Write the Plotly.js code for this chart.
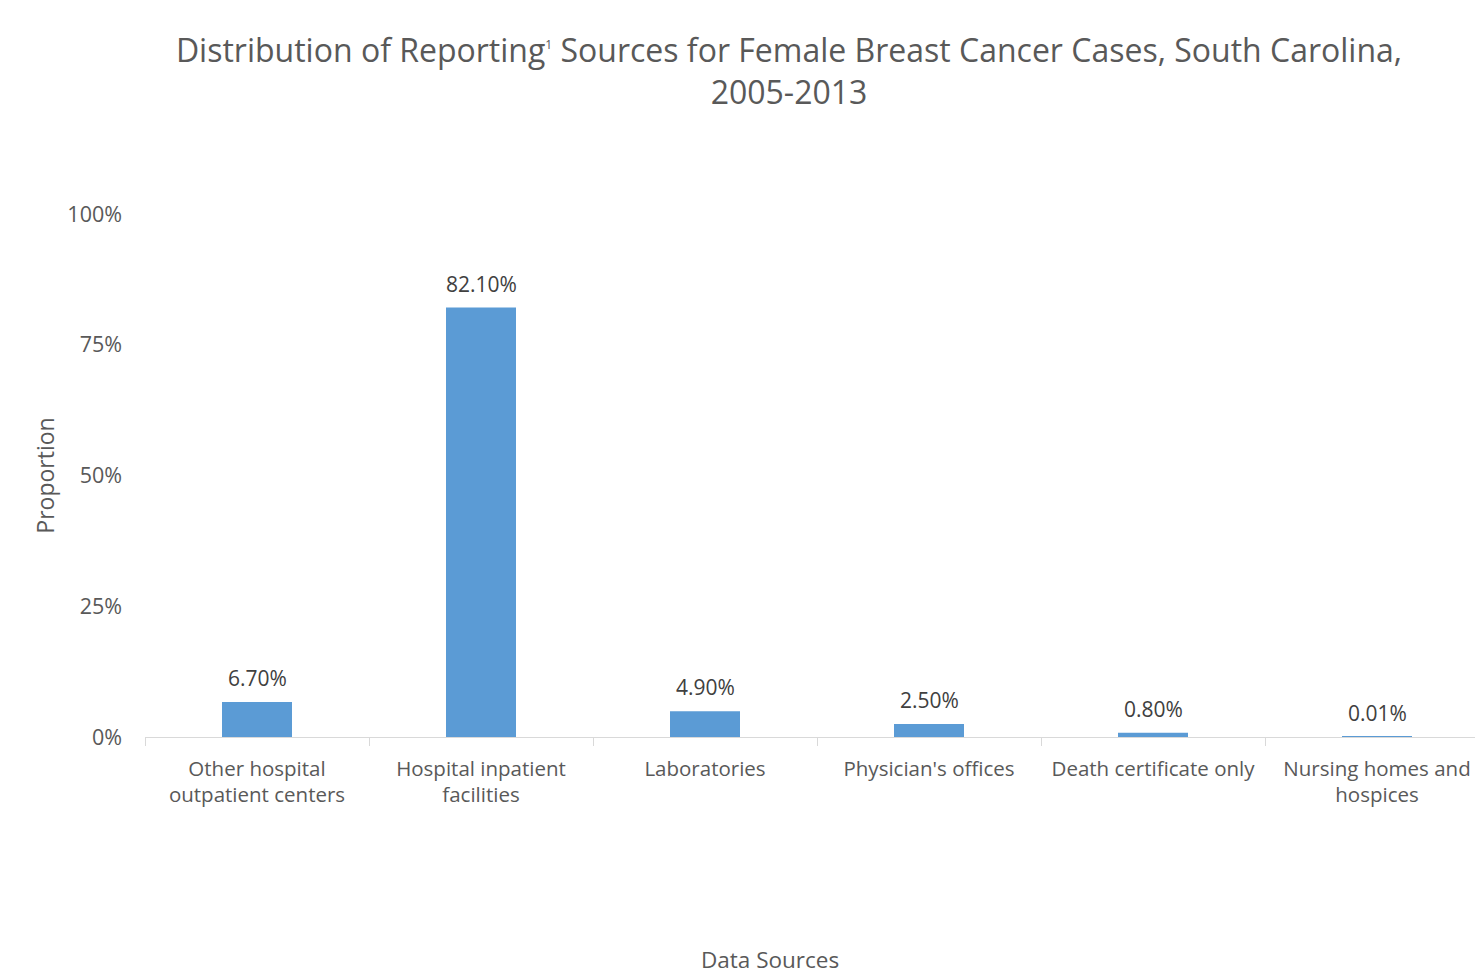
<!DOCTYPE html>
<html>
<head>
<meta charset="utf-8">
<script src="https://cdn.plot.ly/plotly-3.0.1.min.js"></script>
<style>
html, body { margin: 0; padding: 0; overflow: hidden; background: #fff; }
#chart { width: 1500px; height: 973px; }
</style>
</head>
<body>
<div id="chart"></div>
<script>
const categories = [
  "Other hospital<br>outpatient centers",
  "Hospital inpatient<br>facilities",
  "Laboratories",
  "Physician's offices",
  "Death certificate only",
  "Nursing homes and<br>hospices"
];
const values = [6.7, 82.1, 4.9, 2.5, 0.8, 0.01];
const yTickVals = [0, 25, 50, 75, 100];
const yTickText = ["0%", "25%", "50%", "75%", "100%"];

const FONT = "Open Sans, DejaVu Sans, sans-serif";

const annotations = categories.map((c, i) => ({
  x: c, y: values[i], xref: "x", yref: "y",
  text: values[i].toFixed(2) + "%",
  showarrow: false, yanchor: "bottom", yshift: 8,
  font: { family: FONT, size: 21, color: "#404040" }
}));
annotations.push({
  x: (770 - 145) / 1344, y: 0, xref: "paper", yref: "paper",
  xanchor: "center", yanchor: "middle",
  yshift: -(959 - 737),
  text: "Data Sources", showarrow: false,
  font: { family: FONT, size: 22.5, color: "#595959" }
});

const trace = {
  type: "bar",
  x: categories,
  y: values,
  marker: { color: "#5B9BD5" },
  hoverinfo: "x+y"
};

const layout = {
  width: 1500, height: 973,
  margin: { l: 145, r: 11, t: 214, b: 236 },
  paper_bgcolor: "#ffffff", plot_bgcolor: "#ffffff",
  showlegend: false,
  bargap: 0.6875,
  title: {
    text: "Distribution of Reporting<sup><span style=\"font-size:12px\">1</span></sup> Sources for Female Breast Cancer Cases, South Carolina,<br>2005-2013",
    x: 789 / 1500, xanchor: "center", xref: "container",
    y: 1 - 62 / 973, yanchor: "middle", yref: "container",
    font: { family: FONT, size: 32, color: "#595959" }
  },
  xaxis: {
    type: "category",
    tickson: "boundaries",
    ticks: "outside", ticklen: 8, tickcolor: "#d9d9d9", tickwidth: 1,
    ticklabelstandoff: 13,
    showline: true, linecolor: "#d9d9d9", linewidth: 1,
    showgrid: false,
    tickfont: { family: FONT, size: 20.5, color: "#595959" },
    automargin: false
  },
  yaxis: {
    range: [0, 100],
    tickvals: yTickVals, ticktext: yTickText,
    showgrid: false, zeroline: false, showline: false,
    ticks: "", ticklabelstandoff: 22,
    tickfont: { family: FONT, size: 21.5, color: "#595959" },
    title: { text: "Proportion", standoff: 6, font: { family: FONT, size: 23, color: "#595959" } },
    automargin: false
  },
  annotations: annotations
};

Plotly.newPlot("chart", [trace], layout, { displayModeBar: false, responsive: false });
</script>
</body>
</html>
